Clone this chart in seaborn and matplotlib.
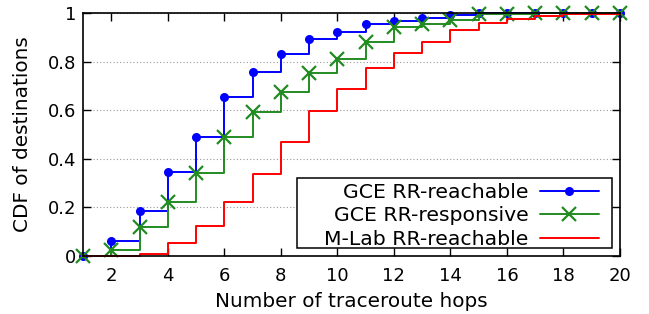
import matplotlib
matplotlib.use("Agg")
import matplotlib.pyplot as plt
from matplotlib.patches import Rectangle
import seaborn as sns
import pandas as pd

hops = list(range(1, 21))
gce_reachable = [0.0, 0.063, 0.186, 0.344, 0.490, 0.653, 0.759, 0.833, 0.895, 0.922,
                 0.953, 0.967, 0.979, 0.993, 1.0, 1.0, 1.0, 1.0, 1.0, 1.0]
gce_responsive = [0.0, 0.025, 0.118, 0.223, 0.342, 0.490, 0.592, 0.673, 0.753, 0.810,
                  0.879, 0.942, 0.956, 0.973, 0.995, 0.997, 1.0, 1.0, 1.0, 1.0]
mlab_reachable = [0.0, 0.002, 0.008, 0.055, 0.122, 0.223, 0.337, 0.468, 0.596, 0.689,
                  0.774, 0.837, 0.882, 0.932, 0.959, 0.977, 0.988, 0.995, 0.997, 1.0]
labels = ["GCE RR-reachable", "GCE RR-responsive", "M-Lab RR-reachable"]
x_ticks = [2, 4, 6, 8, 10, 12, 14, 16, 18, 20]
y_ticks = [0, 0.2, 0.4, 0.6, 0.8, 1]
y_tick_labels = ["0", "0.2", "0.4", "0.6", "0.8", "1"]

sns.set_theme(style="white")
plt.rcParams["font.family"] = ["DejaVu Sans"]
plt.rcParams["text.color"] = "black"
plt.rcParams["axes.labelcolor"] = "black"

fig = plt.figure(figsize=(6.49, 3.14), dpi=100)
ax = fig.add_axes([0.1279, 0.1847, 0.8274, 0.7739])

df = pd.DataFrame({"hops": hops, "a": gce_reachable, "b": gce_responsive, "c": mlab_reachable})

sns.lineplot(data=df, x="hops", y="a", ax=ax, color="#0000ff", lw=1.4,
             drawstyle="steps-post", marker="o", markersize=6.5, markeredgewidth=0,
             markeredgecolor="#0000ff", label=labels[0])
sns.lineplot(data=df, x="hops", y="b", ax=ax, color="#228b22", lw=1.4,
             drawstyle="steps-post", marker="x", markersize=9.5, markeredgewidth=1.6,
             markeredgecolor="#228b22", label=labels[1])
sns.lineplot(data=df, x="hops", y="c", ax=ax, color="#ff0000", lw=1.4,
             drawstyle="steps-post", label=labels[2])

ax.set_xlim(1, 20)
ax.set_ylim(0, 1)
ax.set_xticks(x_ticks)
ax.set_yticks(y_ticks)
ax.set_yticklabels(y_tick_labels)
ax.set_xlabel("Number of traceroute hops", fontsize=14.4, labelpad=5)
ax.set_ylabel("CDF of destinations", fontsize=14.4, labelpad=11)
ax.tick_params(axis="both", direction="in", length=6, width=1, colors="black",
               labelsize=13, top=True, right=True, bottom=True, left=True)
ax.tick_params(axis="x", pad=8)
ax.tick_params(axis="y", pad=5)
for s in ax.spines.values():
    s.set_visible(True)
    s.set_color("black")
    s.set_linewidth(1.2)
ax.yaxis.grid(True, linestyle=(0, (1, 2)), color="#999999", linewidth=0.8)
ax.xaxis.grid(False)
ax.set_axisbelow(True)
for line in ax.lines:
    line.set_clip_on(False)

leg = ax.legend(loc="lower right", bbox_to_anchor=(0.961, 0.030), borderaxespad=0,
                markerfirst=False, fontsize=14.7, frameon=False,
                handlelength=2.9, handletextpad=0.55, labelspacing=0.22, borderpad=0)
ax.add_patch(Rectangle((0.399, 0.034), 0.9845 - 0.399, 0.322 - 0.034,
                       transform=ax.transAxes, facecolor="white",
                       edgecolor="black", linewidth=1.1, zorder=1.5, clip_on=False))

fig.savefig("out.png", dpi=100)
